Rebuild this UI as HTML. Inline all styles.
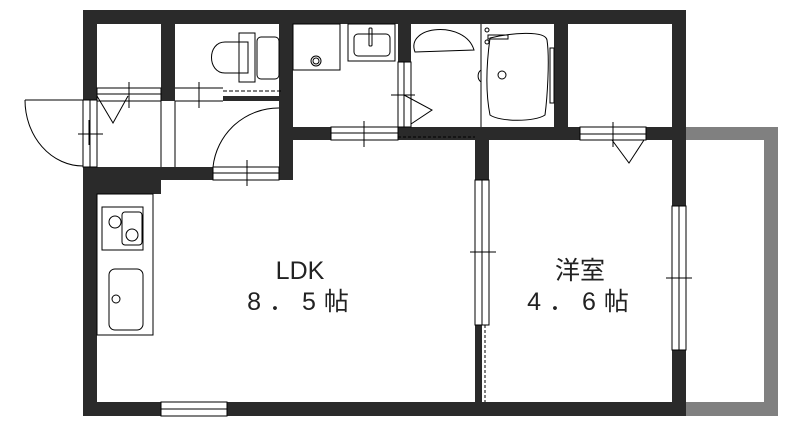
<!DOCTYPE html>
<html><head><meta charset="utf-8"><style>body{margin:0;background:#fff}svg{display:block}</style></head><body>
<svg width="785" height="429" viewBox="0 0 785 429" xmlns="http://www.w3.org/2000/svg">
<g fill="#808080">
<rect x="686" y="127" width="92" height="13"/><rect x="764" y="127" width="14" height="289"/><rect x="686" y="402" width="92" height="14"/>
</g>
<g fill="#2a2a2a">
<rect x="83" y="10" width="603" height="14"/>
<rect x="83" y="10" width="14" height="90"/>
<rect x="83" y="167" width="14" height="249"/>
<rect x="83" y="402" width="603" height="14"/>
<rect x="672" y="10" width="14" height="406"/>
<rect x="161" y="24" width="14" height="77"/>
<rect x="279" y="24" width="14" height="156"/>
<rect x="83" y="167" width="130" height="13"/>
<rect x="83" y="167" width="78" height="27"/>
<rect x="223" y="96" width="56" height="5"/>
<rect x="279" y="127" width="52" height="13"/>
<rect x="398" y="24" width="13" height="38"/>
<rect x="398" y="127" width="182" height="13"/>
<rect x="646" y="127" width="26" height="13"/>
<rect x="554" y="24" width="14" height="103"/>
<rect x="475" y="127" width="14" height="53"/>
<rect x="475" y="325" width="7" height="77"/>
</g>
<g fill="#fff" stroke="#000" stroke-width="1">
<rect x="161" y="402" width="66" height="14"/><line x1="161" y1="409" x2="227" y2="409"/>
<rect x="331" y="127" width="67" height="13"/><line x1="331" y1="133" x2="398" y2="133"/>
<rect x="580" y="127" width="66" height="13"/><line x1="580" y1="134" x2="646" y2="134"/>
<rect x="475" y="180" width="14" height="145"/><line x1="482" y1="180" x2="482" y2="325"/>
<rect x="672" y="206" width="14" height="144"/><line x1="679" y1="206" x2="679" y2="350"/>
<rect x="97" y="88" width="64" height="13"/><line x1="97" y1="94" x2="161" y2="94"/>
<rect x="213" y="167" width="66" height="13"/><line x1="213" y1="173" x2="279" y2="173"/>
<rect x="83" y="100" width="14" height="67"/><line x1="90" y1="100" x2="90" y2="167"/>
<rect x="398" y="62" width="13" height="65"/><line x1="404" y1="62" x2="404" y2="127"/>
</g>
<g fill="none" stroke="#000" stroke-width="1">
<line x1="175" y1="88" x2="223" y2="88"/>
<line x1="175" y1="101" x2="223" y2="101"/>
<line x1="223" y1="91" x2="282" y2="91" stroke-dasharray="4,2"/>
<line x1="161" y1="101" x2="161" y2="167"/><line x1="175" y1="101" x2="175" y2="167"/>
<path d="M25 100 L83 100 M25 100 A58 66 0 0 0 83 166"/>
<path d="M279 108 A66 66 0 0 0 213 167"/>
<path d="M97 96 L113 123 L128 96"/>
<path d="M404 95 L432 110 L411 124"/>
<path d="M612 140 L629 163 L644 140"/>
<line x1="485" y1="325" x2="485" y2="402" stroke-dasharray="3,2"/>
<line x1="398" y1="137" x2="475" y2="137" stroke-dasharray="3,2"/>
<line x1="78" y1="134" x2="103" y2="134"/><line x1="89" y1="120" x2="89" y2="145"/>
<line x1="129" y1="82" x2="129" y2="108"/><line x1="199" y1="82" x2="199" y2="108"/>
<line x1="247" y1="160" x2="247" y2="186"/><line x1="364" y1="121" x2="364" y2="147"/>
<line x1="613" y1="122" x2="613" y2="147"/><line x1="391" y1="95" x2="415" y2="95"/>
<line x1="470" y1="252" x2="496" y2="252"/><line x1="666" y1="278" x2="692" y2="278"/>
<rect x="97" y="194" width="56" height="141"/>
<rect x="102" y="207" width="41" height="43"/><rect x="122" y="212" width="20" height="33" rx="3"/>
<circle cx="115" cy="222" r="6"/><circle cx="132" cy="235" r="6"/>
<rect x="109" y="269" width="34" height="61" rx="6"/><circle cx="116" cy="299" r="4"/>
<rect x="239" y="33" width="16" height="49"/><rect x="257" y="37" width="22" height="42" rx="4"/>
<path d="M248 42 L225 42 C207 42 207 73 225 73 L248 73 Z"/>
<rect x="293" y="24" width="47" height="46"/><circle cx="316" cy="61" r="5"/><circle cx="316" cy="61" r="3"/>
<rect x="348" y="24" width="47" height="37"/><rect x="354" y="34" width="36" height="22" rx="4"/><rect x="369" y="28" width="3" height="18" rx="1"/>
<path d="M415 52 C405 25 465 20 474 50 Z"/>
<line x1="481" y1="24" x2="481" y2="127"/>
<path d="M490 38 C510 33 545 30 547 40 C550 60 547 100 545 115 C535 122 500 122 490 115 C485 90 487 60 490 38 Z"/>
<circle cx="502" cy="75" r="4"/><path d="M481 70 A6 7 0 0 0 481 82"/>
<rect x="488" y="35" width="20" height="4"/><circle cx="487" cy="30" r="2"/><circle cx="487" cy="42" r="2"/>
<rect x="550" y="48" width="4" height="55"/>
</g>
<g font-family="'Liberation Sans','Noto Sans CJK JP',sans-serif" font-size="25" fill="#222" text-anchor="middle">
<text x="300" y="279">LDK</text>
<text x="302" y="310" letter-spacing="8">8．5帖</text>
<text x="580" y="279">洋室</text>
<text x="582" y="310" letter-spacing="8">4．6帖</text>
</g>
</svg>
</body></html>
